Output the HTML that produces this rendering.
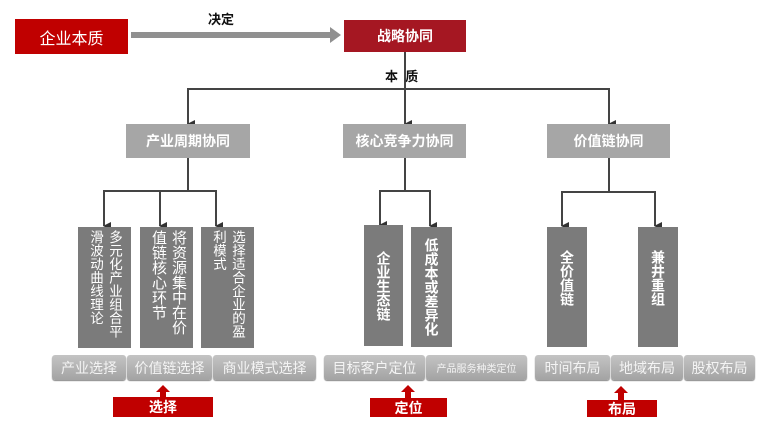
<!DOCTYPE html>
<html><head><meta charset="utf-8"><style>
body{margin:0;width:759px;height:425px;background:#fff;position:relative;overflow:hidden;font-family:"Liberation Sans","Noto Sans CJK SC",sans-serif}
.a{position:absolute;box-sizing:border-box;display:flex;align-items:center;justify-content:center;color:#fff;white-space:nowrap}
.g{background:#a6a6a6;font-weight:bold;font-size:14px}
.c{background:#7b7b7b}
.v{writing-mode:vertical-rl;font-size:14px;line-height:18px;align-items:flex-start;justify-content:flex-start;padding:3px 7px 0 0}
.vb{writing-mode:vertical-rl;font-size:14px;font-weight:bold;line-height:16px}
.b{background:linear-gradient(#c4c4c4,#a3a3a3);border-radius:3px;font-size:14px;color:#f4f4f4;height:25px;top:355px;box-shadow:0 1px 1px #888}
.r{background:#c00000;font-weight:bold;font-size:14px}
</style></head><body>
<svg width="759" height="425" style="position:absolute;left:0;top:0">
<defs><marker id="m" markerWidth="8" markerHeight="8" refX="4" refY="7" orient="auto" markerUnits="userSpaceOnUse"><path d="M0,0 L8,0 L4,8 Z" fill="#333"/></marker></defs>
<rect x="131" y="32" width="200" height="6" fill="#909090"/>
<path d="M330,27 L341,35 L330,43 Z" fill="#909090"/>
<g stroke="#444" stroke-width="2" fill="none">
<line x1="405" y1="52" x2="405" y2="124" marker-end="url(#m)"/>
<polyline points="188,124 188,89 609,89 609,124" marker-end="url(#m)"/>
<line x1="188" y1="89" x2="188" y2="124" marker-end="url(#m)"/>
<line x1="188" y1="158" x2="188" y2="191"/>
<polyline points="104,226 104,191 216,191 216,226" marker-end="url(#m)"/>
<line x1="104" y1="191" x2="104" y2="226" marker-end="url(#m)"/>
<line x1="160" y1="191" x2="160" y2="226" marker-end="url(#m)"/>
<line x1="405" y1="158" x2="405" y2="191"/>
<polyline points="380,225 380,191 430,191 430,226" marker-end="url(#m)"/>
<line x1="380" y1="191" x2="380" y2="225" marker-end="url(#m)"/>
<line x1="609" y1="158" x2="609" y2="192"/>
<polyline points="562,226 562,192 655,192 655,226" marker-end="url(#m)"/>
<line x1="562" y1="192" x2="562" y2="226" marker-end="url(#m)"/>
</g>
<g fill="#c00000">
<path d="M156,392 L163,385 L170,392 Z"/><rect x="160" y="391" width="6" height="7"/>
<path d="M401,392 L408,385 L415,392 Z"/><rect x="405" y="391" width="6" height="7"/>
<path d="M614,393 L621,386 L628,393 Z"/><rect x="618" y="392" width="6" height="8"/>
</g>
</svg>
<div class="a" style="left:15px;top:19px;width:113px;height:35px;background:#c00000;font-size:16px">企业本质</div>
<div class="a" style="left:208px;top:9px;font-size:13px;font-weight:bold;color:#111">决定</div>
<div class="a" style="left:344px;top:20px;width:122px;height:32px;background:#a51722;font-weight:bold;font-size:14px">战略协同</div>
<div class="a" style="left:385px;top:66px;font-size:13px;font-weight:bold;color:#111">本&nbsp;&nbsp;质</div>
<div class="a g" style="left:126px;top:124px;width:124px;height:34px">产业周期协同</div>
<div class="a g" style="left:343px;top:124px;width:123px;height:34px">核心竞争力协同</div>
<div class="a g" style="left:547px;top:124px;width:123px;height:34px">价值链协同</div>

<div class="a c v" style="left:78px;top:227px;width:53px;height:121px;font-size:13.5px;line-height:19px">多元化产业组合平<br>滑波动曲线理论</div>
<div class="a c v" style="left:140px;top:227px;width:53px;height:121px;font-size:15px;line-height:20px;padding-right:5px">将资源集中在价<br>值链核心环节</div>
<div class="a c v" style="left:201px;top:227px;width:53px;height:121px;font-size:13.5px;line-height:19px">选择适合企业的盈<br>利模式</div>

<div class="a c vb" style="left:364px;top:225px;width:39px;height:121px">企业生态链</div>
<div class="a c vb" style="left:411px;top:227px;width:41px;height:120px">低成本或差异化</div>
<div class="a c vb" style="left:547px;top:227px;width:40px;height:120px;padding-bottom:18px">全价值链</div>
<div class="a c vb" style="left:638px;top:227px;width:40px;height:120px;padding-bottom:18px">兼井重组</div>

<div class="a b" style="left:52px;width:74px">产业选择</div>
<div class="a b" style="left:127px;width:85px">价值链选择</div>
<div class="a b" style="left:213px;width:103px">商业模式选择</div>
<div class="a b" style="left:324px;width:101px">目标客户定位</div>
<div class="a b" style="left:426px;width:101px;font-size:10px">产品服务种类定位</div>
<div class="a b" style="left:535px;width:75px">时间布局</div>
<div class="a b" style="left:611px;width:72px">地域布局</div>
<div class="a b" style="left:684px;width:71px">股权布局</div>

<div class="a r" style="left:113px;top:397px;width:100px;height:20px">选择</div>
<div class="a r" style="left:370px;top:398px;width:77px;height:19px">定位</div>
<div class="a r" style="left:587px;top:400px;width:70px;height:17px">布局</div>
</body></html>
